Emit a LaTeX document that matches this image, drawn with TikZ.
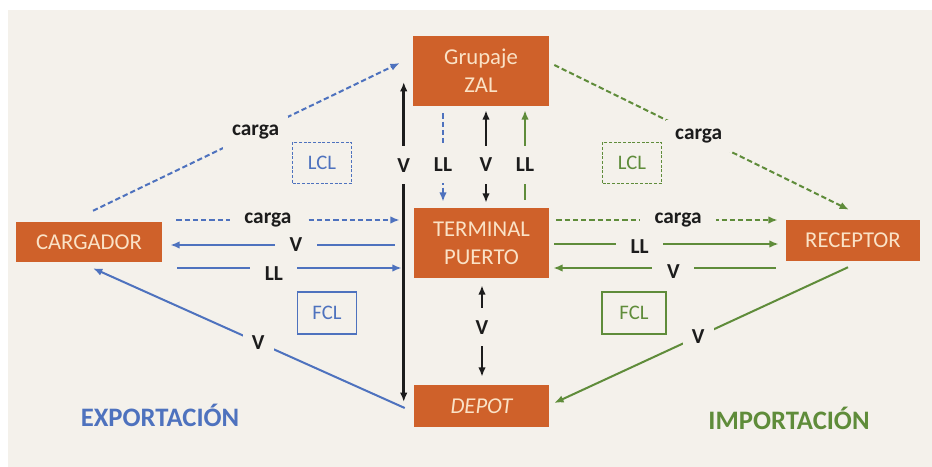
\documentclass[tikz,border=0pt]{standalone}
\usepackage{fontspec}
\setmainfont{Carlito}
\usetikzlibrary{arrows.meta,calc}
\definecolor{boxor}{RGB}{207,97,42}
\definecolor{boxtxt}{RGB}{250,226,198}
\definecolor{bluec}{RGB}{78,114,190}
\definecolor{greenc}{RGB}{95,140,58}
\definecolor{blk}{RGB}{28,28,28}
\definecolor{bgc}{RGB}{244,241,235}
\begin{document}
\begin{tikzpicture}[x=0.75pt,y=-0.75pt,
  ubox/.style={fill=boxor,text=boxtxt,inner sep=0pt,align=center,font=\fontsize{17}{21}\selectfont},
  lbl/.style={fill=bgc,text=blk,font=\fontsize{16}{16}\selectfont\bfseries,inner sep=7pt},
  hlbl/.style={lbl,inner xsep=11pt,inner ysep=2pt},
  vlbl/.style={lbl,inner xsep=2pt,inner ysep=9pt},
  tip/.style={-{Latex[length=7pt,width=5.6pt]}},
  dtip/.style={{Latex[length=7pt,width=5.6pt]}-{Latex[length=7pt,width=5.6pt]}},
  bl/.style={draw=bluec,line width=1.5pt,tip},
  gr/.style={draw=greenc,line width=1.5pt,tip},
  bk/.style={draw=blk,line width=1.9pt,dtip},
  dsh/.style={dash pattern=on 4pt off 2.2pt},
  lclbox/.style={draw,line width=0.9pt,dash pattern=on 2.2pt off 1.3pt,inner sep=0pt,minimum width=44pt,minimum height=31pt,font=\fontsize{15.5}{15}\selectfont},
  fclbox/.style={draw,line width=0.9pt,inner sep=0pt,minimum height=31.5pt,font=\fontsize{15.5}{15}\selectfont},
  title/.style={font=\fontsize{20}{20}\selectfont\bfseries}
]
\fill[white] (0,0) rectangle (932,467);
\fill[bgc] (8,10) rectangle (932,467);
\useasboundingbox (0,0) rectangle (932,467);

% boxes
\node[ubox,minimum width=102pt,minimum height=52.5pt] (zal) at (481,71) {Grupaje\\ZAL};
\node[ubox,minimum width=101.25pt,minimum height=52.5pt] (term) at (481.5,243) {TERMINAL\\PUERTO};
\node[ubox,minimum width=101.25pt,minimum height=31.5pt] (depot) at (481.5,406) {\itshape DEPOT};
\node[ubox,minimum width=109.5pt,minimum height=30pt] (car) at (89,242) {CARGADOR};
\node[ubox,minimum width=100.5pt,minimum height=30.75pt] (rec) at (853,240.5) {RECEPTOR};

% LCL / FCL boxes
\node[lclbox,draw=bluec,text=bluec] (lcla) at (322,163) {LCL};
\node[lclbox,draw=greenc,text=greenc] (lclb) at (632,163) {LCL};
\node[fclbox,draw=bluec,text=bluec,minimum width=44pt] (fcla) at (327,313) {FCL};
\node[fclbox,draw=greenc,text=greenc,minimum width=48pt] (fclb) at (634,313) {FCL};

% titles
\node[title,text=bluec] (exp) at (160,415) {EXPORTACIÓN};
\node[title,text=greenc] (imp) at (789,418) {IMPORTACIÓN};

% central column
\draw[bk] ($(zal.west)+(-9,11)$) -- node[vlbl,pos=0.26]{V} ($(depot.west)+(-10,-4)$);
\draw[bl,dsh] ($(zal.south)+(-38,7)$) -- node[vlbl,pos=0.58]{LL} ($(term.north)+(-38.5,-6)$);
\draw[bk] ($(zal.south)+(5,4)$) -- node[vlbl,pos=0.59]{V} ($(term.north)+(4.5,-5)$);
\draw[gr] ($(term.north)+(43.5,-8)$) -- node[vlbl,pos=0.39]{LL} ($(zal.south)+(44,4)$);
\draw[bk] ($(term.south)+(0.5,7)$) -- node[vlbl,pos=0.46]{V} ($(depot.north)+(0.5,-8)$);

% export side
\draw[bl,dsh] ($(car.north)+(4,-11)$) -- node[lbl,pos=0.53]{carga} ($(zal.west)+(-13,-8)$);
\draw[bl,dsh] ($(car.east)+(14,-22)$) -- node[hlbl,pos=0.41]{carga} ($(term.west)+(-14,-23)$);
\draw[bl] ($(term.west)+(-19,2)$) -- node[hlbl,pos=0.44]{V} ($(car.east)+(8,3)$);
\draw[bl] ($(car.east)+(15,26)$) -- node[hlbl,pos=0.43,yshift=-4pt]{LL} ($(term.west)+(-12,25)$);
\draw[bl] ($(depot.west)+(-9,2)$) -- node[lbl,pos=0.47]{V} ($(car.south)+(4,6)$);

% import side
\draw[gr,dsh] ($(zal.east)+(5,-6)$) -- node[lbl,pos=0.49]{carga} ($(rec.north)+(-4,-10)$);
\draw[gr,dsh] ($(term.east)+(7,-23)$) -- node[hlbl,pos=0.55]{carga} ($(rec.west)+(-8,-20.5)$);
\draw[gr] ($(term.east)+(5,1)$) -- node[hlbl,pos=0.38,yshift=-2pt]{LL} ($(rec.west)+(-7,3.5)$);
\draw[gr] ($(rec.west)+(-10,27.5)$) -- node[hlbl,pos=0.46,yshift=-3pt]{V} ($(term.east)+(4,25)$);
\draw[gr] ($(rec.south)+(-5,6)$) -- node[lbl,pos=0.51]{V} ($(depot.east)+(5,-3)$);
\end{tikzpicture}
\end{document}
